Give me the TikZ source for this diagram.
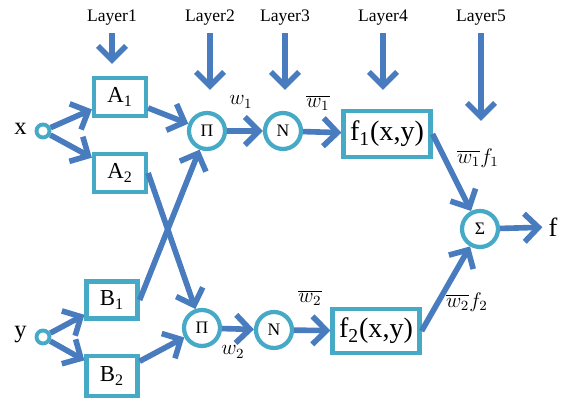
\documentclass[tikz,border=0pt]{standalone}
\usepackage{fontspec}
\setmainfont{Liberation Serif}
\usetikzlibrary{arrows.meta}
\definecolor{flow}{RGB}{72,124,190}
\definecolor{frame}{RGB}{70,170,198}

\begin{document}
\begin{tikzpicture}[
  x=0.02cm, y=-0.02cm,
  blk/.style={rectangle, draw=frame, line width=2.4pt, fill=white,
              inner sep=0pt, minimum width=1.04cm, minimum height=0.76cm,
              font=\fontsize{13}{15}\selectfont},
  fblk/.style={blk, minimum width=1.74cm, minimum height=0.92cm,
               font=\fontsize{16}{18}\selectfont},
  opnode/.style={circle, draw=frame, line width=2.4pt, fill=white,
                 inner sep=0pt, minimum size=0.72cm,
                 font=\fontsize{10}{12}\selectfont},
  innode/.style={circle, draw=frame, line width=2.2pt, fill=white,
                 inner sep=0pt, minimum size=0.26cm},
  lay/.style={font=\fontsize{10}{12}\selectfont, inner sep=1pt},
  wlab/.style={font=\fontsize{12}{14}\selectfont, inner sep=1pt},
  arr/.style={-{Straight Barb[length=8pt, width=16pt]}, line width=3.2pt,
              color=flow},
]
  \useasboundingbox (0,0) rectangle (562,401);

  % layer headings
  \node[lay] (L1) at (112,18) {Layer1};
  \node[lay] (L2) at (210,18) {Layer2};
  \node[lay] (L3) at (285,18) {Layer3};
  \node[lay] (L4) at (383,18) {Layer4};
  \node[lay] (L5) at (481,18) {Layer5};
  \coordinate (e1) at (112,64);
  \coordinate (e2) at (210,90);
  \coordinate (e3) at (285,90);
  \coordinate (e4) at (383,90);
  \coordinate (e5) at (481,121);

  % inputs
  \node[innode] (x) at (43,131) {};
  \node[innode] (y) at (43,337) {};
  \node[font=\fontsize{14}{16}\selectfont, anchor=east] (xl) at (33,129) {x};
  \node[font=\fontsize{14}{16}\selectfont, anchor=east] (yl) at (33,335) {y};

  % layer 1
  \node[blk] (A1) at (120,97) {A\textsubscript{1}};
  \node[blk] (A2) at (120,173) {A\textsubscript{2}};
  \node[blk, minimum width=1.02cm, minimum height=0.74cm] (B1) at (112,300) {B\textsubscript{1}};
  \node[blk, minimum width=1.02cm, minimum height=0.8cm] (B2) at (112,376) {B\textsubscript{2}};

  % layers 2-5
  \node[opnode] (P1) at (207,131) {Π};
  \node[opnode] (P2) at (202,328) {Π};
  \node[opnode] (N1) at (283,131) {N};
  \node[opnode] (N2) at (274,330) {N};
  \node[fblk] (F1) at (387,134) {f\textsubscript{1}(x,y)};
  \node[fblk, minimum height=0.88cm] (F2) at (376,331) {f\textsubscript{2}(x,y)};
  \node[opnode] (S) at (480,229) {Σ};
  \node[font=\fontsize{15}{17}\selectfont] (out) at (553,227) {f};

  % weights
  \node[wlab] (w1) at (241,102) {$w_1$};
  \node[wlab] (w2) at (233,352) {$w_2$};
  \node[wlab] (nw1) at (318,103) {$\overline{w_1}$};
  \node[wlab] (nw2) at (310,298) {$\overline{w_2}$};
  \node[wlab] (wf1) at (478,158) {$\overline{w_1}f_1$};
  \node[wlab] (wf2) at (467,302) {$\overline{w_2}f_2$};

  \draw[arr, shorten <=3pt] (L1) -- (e1);
  \draw[arr, shorten <=3pt] (L2) -- (e2);
  \draw[arr, shorten <=3pt] (L3) -- (e3);
  \draw[arr, shorten <=3pt] (L4) -- (e4);
  \draw[arr, shorten <=3pt] (L5) -- (e5);

  \draw[arr] (x) -- (A1);
  \draw[arr] (x) -- (A2);
  \draw[arr] (y) -- (B1);
  \draw[arr] (y) -- (B2);
  \draw[arr] (A1) -- (P1);
  \draw[arr] (A2.east) -- (P2);
  \draw[arr] (B1.east) -- (P1);
  \draw[arr] (B2) -- (P2);
  \draw[arr] (P1) -- (N1);
  \draw[arr] (P2) -- (N2);
  \draw[arr] (N1) -- (F1);
  \draw[arr] (N2) -- (F2);
  \draw[arr] (F1.east) -- (S);
  \draw[arr] (F2.east) -- (S);
  \draw[arr] (S) -- (out);
\end{tikzpicture}
\end{document}
